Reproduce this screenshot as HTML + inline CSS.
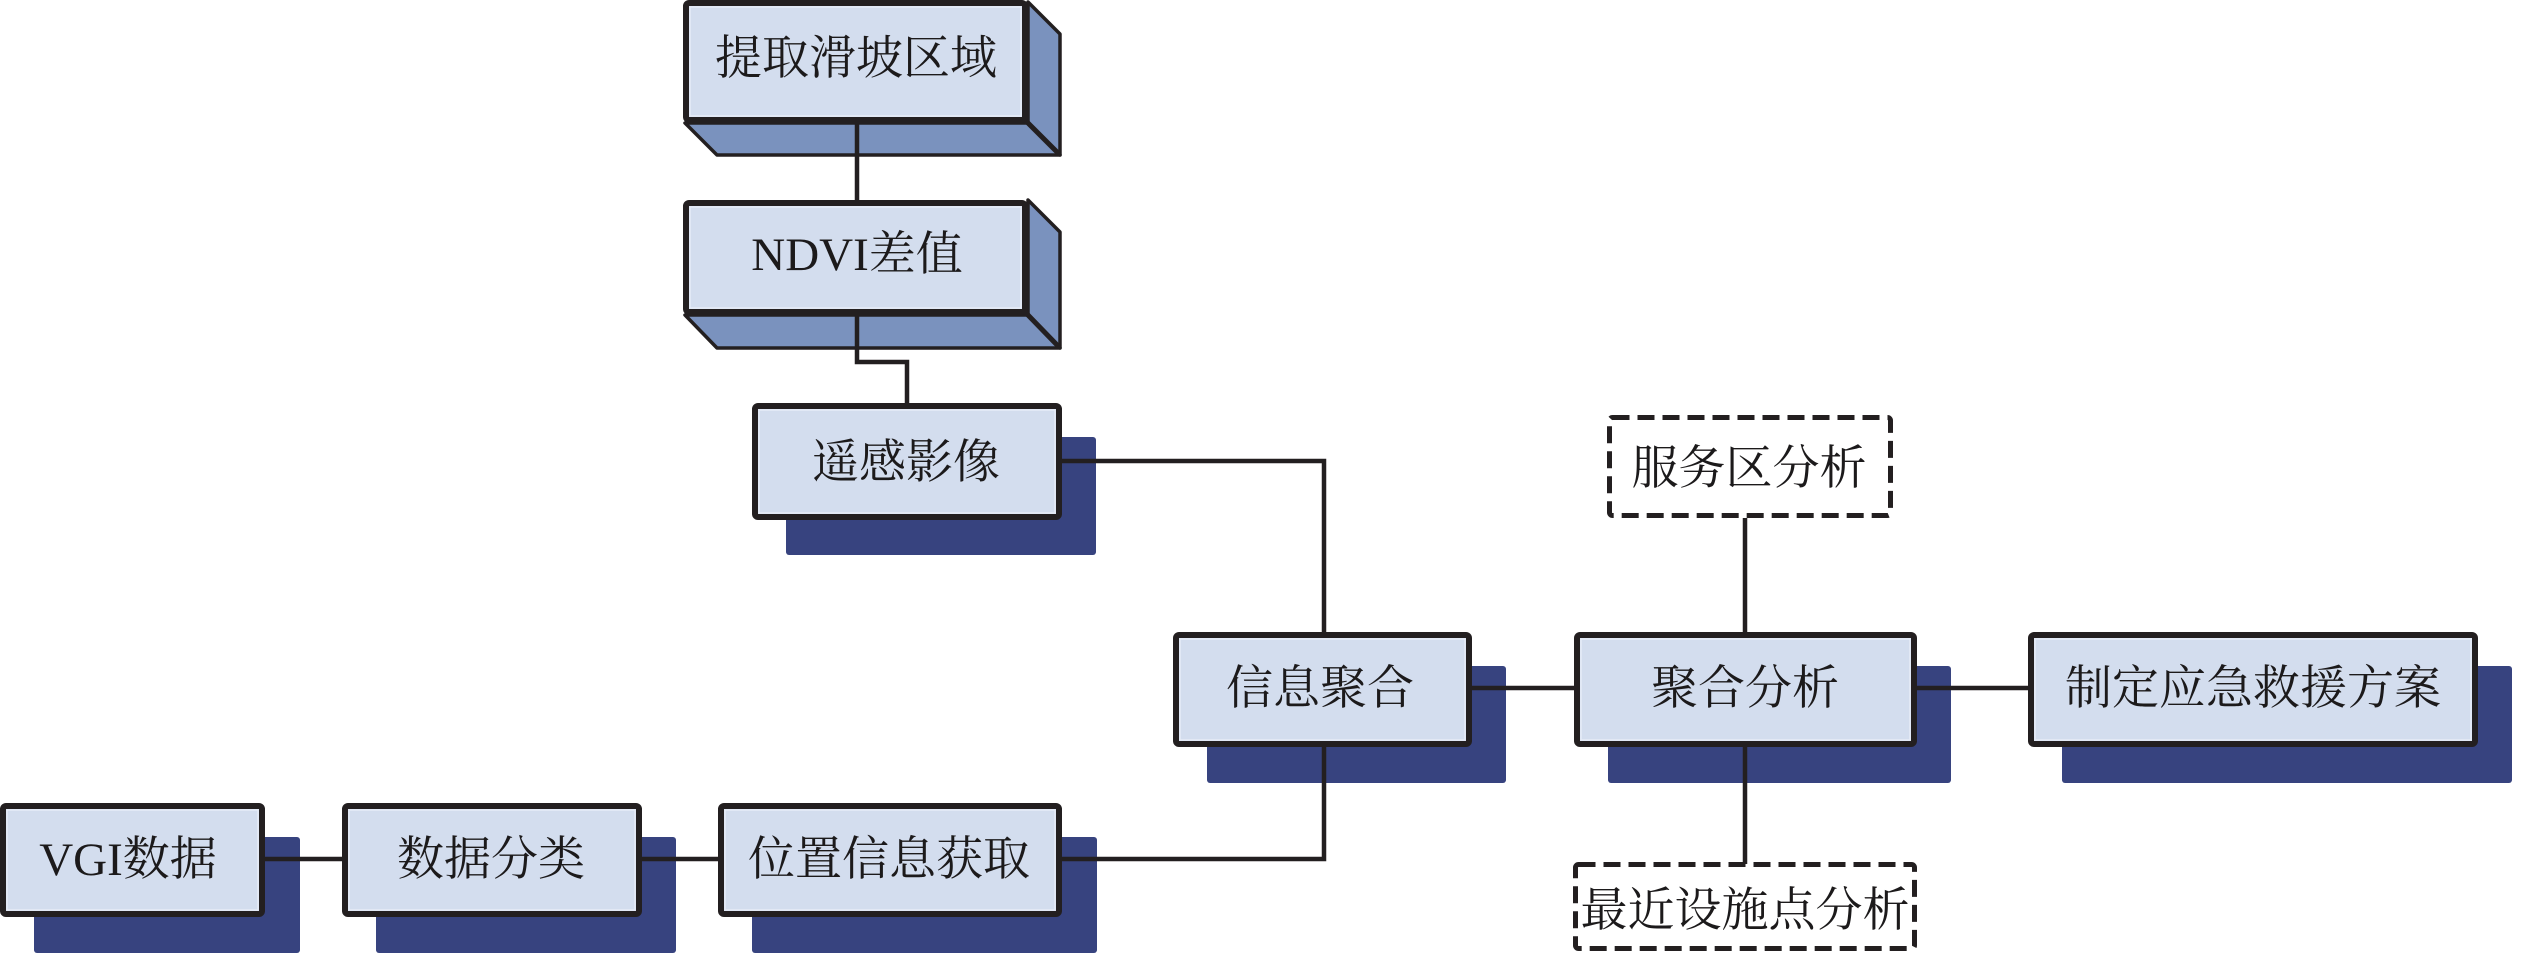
<!DOCTYPE html>
<html>
<head>
<meta charset="utf-8">
<style>
html,body{margin:0;padding:0;background:#fff;}
body{width:2521px;height:953px;overflow:hidden;}
svg{display:block;}
text{font-family:"Liberation Serif","Noto Serif CJK SC","Noto Sans CJK SC",serif;font-size:47px;fill:#1c1a1b;text-anchor:middle;}
</style>
</head>
<body>
<svg width="2521" height="953" viewBox="0 0 2521 953" xmlns="http://www.w3.org/2000/svg">
  <!-- shadows -->
  <g fill="#37437f">
    <rect x="786" y="437" width="310" height="118" rx="3"/>
    <rect x="1207" y="666" width="299" height="117" rx="3"/>
    <rect x="1608" y="666" width="343" height="117" rx="3"/>
    <rect x="2062" y="666" width="450" height="117" rx="3"/>
    <rect x="34" y="837" width="266" height="116" rx="3"/>
    <rect x="376" y="837" width="300" height="116" rx="3"/>
    <rect x="752" y="837" width="345" height="116" rx="3"/>
  </g>

  <!-- 3D extrusions -->
  <g fill="#7a92be" stroke="#231f20" stroke-width="3.5" stroke-linejoin="round">
    <polygon points="1028,2 1060,34 1060,155 1028,123"/>
    <polygon points="685,123 1028,123 1060,155 717,155"/>
    <polygon points="1028,200 1060,232 1060,348 1028,315"/>
    <polygon points="685,315 1028,315 1060,348 717,348"/>
  </g>
  <g stroke="#231f20" stroke-width="5" stroke-linecap="round">
    <line x1="1027" y1="122" x2="1059" y2="154"/>
    <line x1="1027" y1="314" x2="1059" y2="347"/>
  </g>

  <!-- connectors -->
  <g fill="none" stroke="#231f20" stroke-width="4.5" stroke-linejoin="miter">
    <line x1="857" y1="120" x2="857" y2="202"/>
    <polyline points="857,313 857,362 907,362 907,405"/>
    <polyline points="1060,461 1324,461 1324,634"/>
    <polyline points="1324,745 1324,859 1060,859"/>
    <line x1="1470" y1="688" x2="1576" y2="688"/>
    <line x1="1915" y1="688" x2="2030" y2="688"/>
    <line x1="1745" y1="518" x2="1745" y2="634"/>
    <line x1="1745" y1="745" x2="1745" y2="864"/>
    <line x1="263" y1="859" x2="344" y2="859"/>
    <line x1="640" y1="859" x2="720" y2="859"/>
  </g>

  <!-- front faces -->
  <g fill="#d3ddee" stroke="#231f20" stroke-width="6">
    <rect x="686" y="3" width="339" height="117" rx="3"/>
    <rect x="686" y="203" width="339" height="109" rx="3"/>
    <rect x="755" y="406" width="304" height="111" rx="3"/>
    <rect x="1176" y="635" width="293" height="109" rx="3"/>
    <rect x="1577" y="635" width="337" height="109" rx="3"/>
    <rect x="2031" y="635" width="444" height="109" rx="3"/>
    <rect x="3" y="806" width="259" height="108" rx="3"/>
    <rect x="345" y="806" width="294" height="108" rx="3"/>
    <rect x="721" y="806" width="338" height="108" rx="3"/>
  </g>
  <!-- subtle inner highlight -->
  <g fill="none" stroke="#e6ecf7" stroke-width="1.5">
    <rect x="690" y="7" width="331" height="109"/>
    <rect x="690" y="207" width="331" height="101"/>
    <rect x="759" y="410" width="296" height="103"/>
    <rect x="1180" y="639" width="285" height="101"/>
    <rect x="1581" y="639" width="329" height="101"/>
    <rect x="2035" y="639" width="436" height="101"/>
    <rect x="7" y="810" width="251" height="100"/>
    <rect x="349" y="810" width="286" height="100"/>
    <rect x="725" y="810" width="330" height="100"/>
  </g>

  <!-- dashed boxes -->
  <g fill="#ffffff" stroke="#231f20" stroke-width="5" stroke-dasharray="17 8">
    <rect x="1609.5" y="417.5" width="281" height="98" rx="3"/>
    <rect x="1575.5" y="864.5" width="339" height="84" rx="3"/>
  </g>

  <!-- labels -->
  <text x="856" y="74">提取滑坡区域</text>
  <text x="857" y="270">NDVI差值</text>
  <text x="906" y="478">遥感影像</text>
  <text x="1320" y="704">信息聚合</text>
  <text x="1745" y="704">聚合分析</text>
  <text x="2253" y="704">制定应急救援方案</text>
  <text x="1749" y="484">服务区分析</text>
  <text x="1745" y="926">最近设施点分析</text>
  <text x="128" y="875">VGI数据</text>
  <text x="491" y="875">数据分类</text>
  <text x="889" y="875">位置信息获取</text>
</svg>
</body>
</html>
